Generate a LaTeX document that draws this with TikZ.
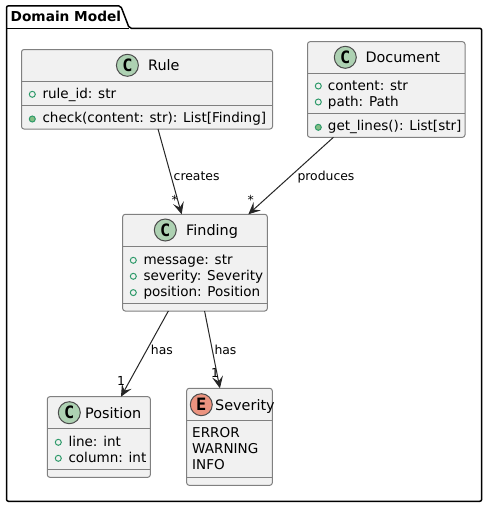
\documentclass[tikz,border=0pt]{standalone}
\usepackage{fontspec}
\setmainfont{DejaVu Sans}
\newfontfamily\spotfont{DejaVu Sans Mono}
\usetikzlibrary{arrows.meta}
\definecolor{boxfill}{HTML}{F1F1F1}
\definecolor{boxline}{HTML}{808080}
\definecolor{spotc}{HTML}{ADD1B2}
\definecolor{spote}{HTML}{EB937F}
\definecolor{vis}{HTML}{2E9A6A}
\definecolor{visfill}{HTML}{84BE84}
\tikzset{
  x=1pt,y=-1pt,
  umlbox/.style={draw=boxline,fill=boxfill,line width=1pt,rounded corners=2.5pt,inner sep=0pt,outer sep=0pt},
  divider/.style={draw=boxline,line width=1pt},
  spot/.style={circle,draw=black!70,line width=1pt,minimum size=22pt,inner sep=0pt,font=\spotfont\fontsize{17}{17}\selectfont\bfseries},
  cname/.style={anchor=base west,inner sep=0pt,font=\fontsize{14.4}{16}\selectfont,text=black},
  member/.style={anchor=base west,inner sep=0pt,font=\fontsize{13.55}{16}\selectfont,text=black},
  edgelabel/.style={anchor=base west,inner sep=0pt,font=\fontsize{12.4}{14}\selectfont,text=black},
  mult/.style={anchor=base west,inner sep=0pt,font=\fontsize{12.4}{14}\selectfont,text=black},
  vishollow/.style={circle,draw=vis,line width=1pt,fill=none,minimum size=6pt,inner sep=0pt},
  visfilled/.style={circle,draw=vis,line width=1pt,fill=visfill,minimum size=6pt,inner sep=0pt},
  assoc/.style={draw=black!85,line width=1pt,-{Stealth[length=12pt,width=11pt,inset=5pt]}},
}
\newcommand{\umlnode}[5]{% name, x1, y1, x2, y2
  \node[umlbox,minimum width=#4pt-#2pt,minimum height=#5pt-#3pt] (#1) at ({(#2+#4)/2},{(#3+#5)/2}) {};
}
\begin{document}
\begin{tikzpicture}
\useasboundingbox (0,0) rectangle (487,507);
\fill[white] (0,0) rectangle (487,507);
% package
\draw[black,line width=1.5pt,line join=round,rounded corners=2pt]
  (6.5,28.3) -- (6.5,5.8) -- (120.7,5.8) -- (129.3,28.3) -- (481.7,28.3) -- (481.7,501.3) -- (6.5,501.3) -- cycle;
\draw[black,line width=1.5pt] (6.5,28.3) -- (129.3,28.3);
\node[anchor=base west,inner sep=0pt,font=\fontsize{13.7}{16}\selectfont\bfseries] (pkg) at (10.5,21) {Domain Model};
% boxes
\umlnode{rule}{21.5}{49.5}{272.5}{129}
\umlnode{document}{307.5}{41.7}{465}{137.3}
\umlnode{finding}{122.7}{214.3}{267.3}{311}
\umlnode{position}{47.3}{396.7}{150.3}{477.3}
\umlnode{severity}{186.7}{388.3}{272.3}{485.3}
% dividers
\draw[divider] (21.5,81) -- (272.5,81) (21.5,105) -- (272.5,105);
\draw[divider] (307.5,73.3) -- (465,73.3) (307.5,113.3) -- (465,113.3);
\draw[divider] (122.7,246.7) -- (267.3,246.7) (122.7,303.3) -- (267.3,303.3);
\draw[divider] (47.3,428.3) -- (150.3,428.3) (47.3,469.3) -- (150.3,469.3);
\draw[divider] (186.7,420.3) -- (272.3,420.3) (186.7,477.3) -- (272.3,477.3);
% spots
\node[spot,fill=spotc] (s1) at (127.4,65.3) {C};
\node[spot,fill=spotc] (s2) at (345.3,57.3) {C};
\node[spot,fill=spotc] (s3) at (165.3,230) {C};
\node[spot,fill=spotc] (s4) at (69.3,412.7) {C};
\node[spot,fill=spote] (s5) at (201.3,404.7) {E};
% names
\node[cname] (n1) at (148,70) {Rule};
\node[cname] (n2) at (365.3,62) {Document};
\node[cname] (n3) at (186,235) {Finding};
\node[cname] (n4) at (85,418) {Position};
\node[cname] (n5) at (215,410) {Severity};
% members: Rule
\node[vishollow] (v1) at (32.3,94.3) {};
\node[member] (m1) at (42.3,98) {rule\_id: str};
\node[visfilled] (v2) at (32.3,119) {};
\node[member] (m2) at (42.3,122) {check(content: str): List[Finding]};
% Document
\node[vishollow] (v3) at (318.3,86) {};
\node[member] (m3) at (327.7,90) {content: str};
\node[vishollow] (v4) at (318.3,102) {};
\node[member] (m4) at (327.7,106) {path: Path};
\node[visfilled] (v5) at (318.3,127.3) {};
\node[member] (m5) at (327.7,130.5) {get\_lines(): List[str]};
% Finding
\node[vishollow] (v6) at (133.3,260.3) {};
\node[member] (m6) at (143.3,264.5) {message: str};
\node[vishollow] (v7) at (133.3,276.3) {};
\node[member] (m7) at (143.3,280.5) {severity: Severity};
\node[vishollow] (v8) at (133.3,292.6) {};
\node[member] (m8) at (143.3,296.5) {position: Position};
% Position
\node[vishollow] (v9) at (58.3,442.3) {};
\node[member] (m9) at (68.3,446.5) {line: int};
\node[vishollow] (v10) at (58.3,458.3) {};
\node[member] (m10) at (68.3,462.5) {column: int};
% Severity
\node[member] (m11) at (192,437.5) {ERROR};
\node[member] (m12) at (192,453.5) {WARNING};
\node[member] (m13) at (192,469.5) {INFO};
% connectors
\draw[assoc] (rule) -- (finding);
\draw[assoc] (document) -- (finding);
\draw[assoc] (finding) -- (position);
\draw[assoc] (finding) -- (severity);
% labels
\node[edgelabel] (l1) at (173.5,180.5) {creates};
\node[edgelabel] (l2) at (297.3,180.5) {produces};
\node[edgelabel] (l3) at (150.7,354.7) {has};
\node[edgelabel] (l4) at (214.3,354.7) {has};
\node[mult] (c1) at (171.5,204.5) {*};
\node[mult] (c2) at (247.5,204.5) {*};
\node[mult] (c3) at (117,385.7) {1};
\node[mult] (c4) at (211,377.3) {1};
\end{tikzpicture}
\end{document}
